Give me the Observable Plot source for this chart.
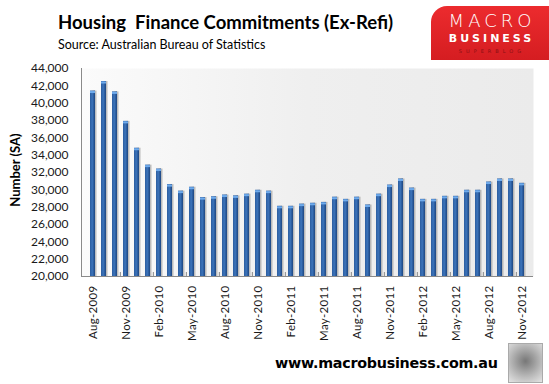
<!DOCTYPE html>
<html><head><meta charset="utf-8">
<script src="https://cdn.jsdelivr.net/npm/d3@7"></script>
<script src="https://cdn.jsdelivr.net/npm/@observablehq/plot@0.6"></script>
<style>
body{margin:0;background:#fff;font-family:Lato,"Open Sans",sans-serif;}
#wrap{position:relative;width:549px;height:384px;overflow:hidden;background:#fff;}
#header{position:relative;height:60px;}
#title{position:absolute;left:58px;top:11px;font-size:18.5px;font-weight:bold;color:#000;white-space:pre;}
#subtitle{position:absolute;left:58px;top:37px;font-size:12.5px;color:#000;}
#logo{position:absolute;left:431px;top:6px;width:118px;height:54px;background:linear-gradient(180deg,#ec2b2e,#d51d21);border-top-left-radius:16px;text-align:center;color:#fff;}
#logo .m{position:absolute;left:0;right:0;top:6px;font-size:18px;letter-spacing:4px;font-family:"DejaVu Sans",sans-serif;font-weight:200;line-height:18px;padding-left:4px;}
#logo .b{position:absolute;left:0;right:0;top:27px;font-size:11px;letter-spacing:3px;font-family:"DejaVu Sans",sans-serif;font-weight:bold;line-height:12px;padding-left:3px;}
#logo .s{position:absolute;left:0;right:0;top:42px;font-size:5px;letter-spacing:4px;color:#8a1014;font-family:"DejaVu Sans",sans-serif;line-height:6px;padding-left:4px;}
#ylabel{position:absolute;left:15px;top:170px;transform:translate(-50%,-50%) rotate(-90deg);font-size:13px;font-weight:bold;white-space:nowrap;}
#footer{position:absolute;left:0;top:340px;width:549px;height:44px;}
#url{position:absolute;left:275px;top:15px;font-family:"DejaVu Sans",sans-serif;font-weight:bold;font-size:14.3px;color:#000;letter-spacing:-0.25px;}
#wolf{position:absolute;left:508px;top:3px;width:33px;height:38px;border:1px solid #aaa;background:radial-gradient(circle at 50% 45%,#777,#bbb 60%,#e4e4e4);}
</style></head><body>
<div id="wrap">
  <div id="header">
    <div id="title">Housing  Finance Commitments (Ex-Refi)</div>
    <div id="subtitle">Source: Australian Bureau of Statistics</div>
    <div id="logo"><div class="m">MACRO</div><div class="b">BUSINESS</div><div class="s">SUPERBLOG</div></div>
  </div>
  <div id="chart"></div>
  <div id="ylabel">Number (SA)</div>
  <div id="footer"><div id="url">www.macrobusiness.com.au</div><div id="wolf"></div></div>
</div>
<script>
const months = [
  "Aug-2009","Sep-2009","Oct-2009","Nov-2009","Dec-2009",
  "Jan-2010","Feb-2010","Mar-2010","Apr-2010","May-2010","Jun-2010","Jul-2010","Aug-2010","Sep-2010","Oct-2010","Nov-2010","Dec-2010",
  "Jan-2011","Feb-2011","Mar-2011","Apr-2011","May-2011","Jun-2011","Jul-2011","Aug-2011","Sep-2011","Oct-2011","Nov-2011","Dec-2011",
  "Jan-2012","Feb-2012","Mar-2012","Apr-2012","May-2012","Jun-2012","Jul-2012","Aug-2012","Sep-2012","Oct-2012","Nov-2012"
];
const values = [
  41400,42500,41300,37900,34800,
  32850,32400,30600,29850,30300,29100,29200,29400,29300,29500,29950,29850,
  28100,28100,28350,28450,28550,29150,28900,29150,28250,29500,30550,31250,
  30200,28900,28900,29250,29250,29950,29950,30900,31250,31250,30750
];
const tickLabels = ["Aug-2009","Nov-2009","Feb-2010","May-2010","Aug-2010","Nov-2010","Feb-2011","May-2011","Aug-2011","Nov-2011","Feb-2012","May-2012","Aug-2012","Nov-2012"];
const yTicks = [20000,22000,24000,26000,28000,30000,32000,34000,36000,38000,40000,42000,44000];
const yBase = 20000;

const data = months.map((m, i) => ({month: m, value: values[i]}));

const W = 549, H = 280, mL = 81, mR = 16, mT = 8, mB = 64;
const step = (W - mL - mR) / months.length;
const plotH = H - mT - mB;

const svg = Plot.plot({
  width: W, height: H,
  marginLeft: mL, marginRight: mR, marginTop: mT, marginBottom: mB,
  style: {fontFamily: "Lato, 'Open Sans', sans-serif", background: "transparent", overflow: "visible"},
  x: {domain: months, paddingInner: 0.56, paddingOuter: 0.28, axis: null},
  y: {domain: [yBase, 44000], axis: null},
  marks: [
    Plot.frame({fill: "url(#bgGrad)", stroke: null}),
    Plot.barY(data, {x: "month", y1: yBase, y2: "value", fill: "#8c8c8c", fillOpacity: 0.55, dx: 1.5}),
    Plot.barY(data, {x: "month", y1: yBase, y2: "value", fill: "url(#barGrad)"}),
    Plot.tickY(data, {x: "month", y: "value", stroke: "#6fabec", strokeWidth: 2, dy: 1}),
    Plot.ruleY([yBase], {stroke: "#8a8a8a", strokeWidth: 1}),
    Plot.frame({anchor: "left", stroke: "#8a8a8a"}),
    Plot.ruleX(tickLabels.slice(1), {x: d => d, dx: -step / 2, insetTop: plotH - 4, stroke: "#8a8a8a"}),
    Plot.axisY({ticks: yTicks, tickFormat: d3.format(","), tickSize: 0, tickPadding: 13, fontSize: 12, fill: "#1a1a1a", label: null}),
    Plot.axisX({ticks: tickLabels, tickRotate: -90, tickSize: 0, tickPadding: 9, fontSize: 11.5, fill: "#1a1a1a", label: null})
  ]
});

const defs = d3.select(svg).insert("defs", ":first-child");
const bg = defs.append("linearGradient").attr("id", "bgGrad").attr("x1", "0").attr("x2", "1").attr("y1", "0").attr("y2", "0");
bg.append("stop").attr("offset", "0").attr("stop-color", "#fbfbfb");
bg.append("stop").attr("offset", "0.5").attr("stop-color", "#efefef");
bg.append("stop").attr("offset", "1").attr("stop-color", "#ebebeb");
const bar = defs.append("linearGradient").attr("id", "barGrad").attr("x1", "0").attr("x2", "1").attr("y1", "0").attr("y2", "0");
bar.append("stop").attr("offset", "0").attr("stop-color", "#2b5c9e");
bar.append("stop").attr("offset", "0.45").attr("stop-color", "#3c74bb");
bar.append("stop").attr("offset", "1").attr("stop-color", "#1d4681");

d3.select(svg).selectAll("g[aria-label='x-axis tick label'] text").style("letter-spacing", "0.3px");

document.getElementById("chart").appendChild(svg);
</script>
</body></html>
